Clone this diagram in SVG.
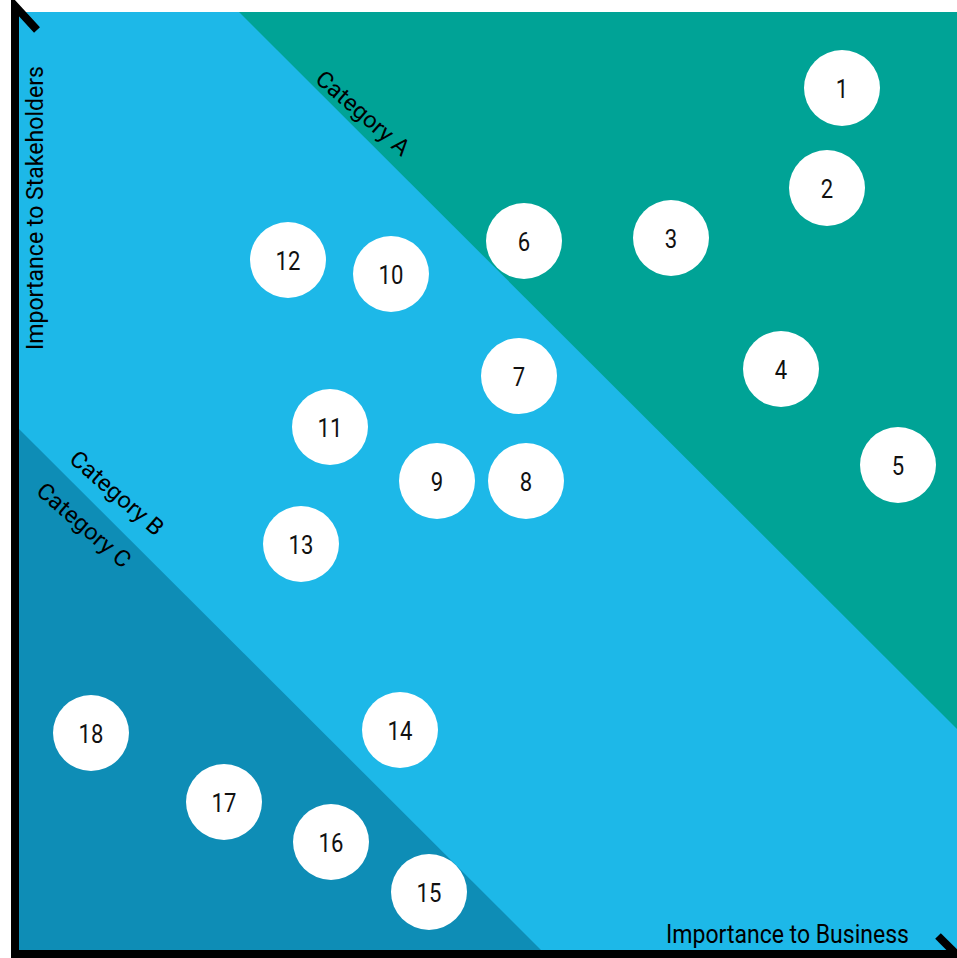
<svg xmlns="http://www.w3.org/2000/svg" width="957" height="958" viewBox="0 0 957 958">
<style>
.n circle{fill:#ffffff}
.n text{font-family:Roboto,"Liberation Sans",sans-serif;font-size:26px;fill:#111;text-anchor:middle}
.lbl{font-family:Roboto,"Liberation Sans",sans-serif;fill:#000}
.axis{fill:none;stroke:#000;stroke-width:8}
</style>
<rect width="957" height="958" fill="#ffffff"/>
<g id="regions">
<rect x="18" y="12" width="939" height="941" fill="#1DB8E8"/>
<polygon points="239,12 957,12 957,729" fill="#00A396"/>
<polygon points="18,428 18,953 544,953" fill="#0E8DB6"/>
</g>
<g id="labels">
<text class="lbl" font-size="23" textLength="116" lengthAdjust="spacingAndGlyphs" transform="translate(314,81) rotate(41)">Category A</text>
<text class="lbl" font-size="23" textLength="116" lengthAdjust="spacingAndGlyphs" transform="translate(68,461) rotate(41)">Category B</text>
<text class="lbl" font-size="23" textLength="116" lengthAdjust="spacingAndGlyphs" transform="translate(35,493) rotate(41)">Category C</text>
<text class="lbl" font-size="24" textLength="284" lengthAdjust="spacingAndGlyphs" transform="translate(43,350) rotate(-90)">Importance to Stakeholders</text>
<text class="lbl" font-size="25" x="666" y="943" textLength="243" lengthAdjust="spacingAndGlyphs">Importance to Business</text>
</g>
<g id="axes">
<path class="axis" d="M37,30 L15,6 L15,954 L957,954"/>
<path class="axis" d="M938,936 L958,956"/>
</g>
<g id="n1" class="n" transform="translate(842,88)"><circle r="38"/><text y="10" transform="scale(0.85,1)">1</text></g>
<g id="n2" class="n" transform="translate(827,188)"><circle r="38"/><text y="10" transform="scale(0.85,1)">2</text></g>
<g id="n3" class="n" transform="translate(671,238)"><circle r="38"/><text y="10" transform="scale(0.85,1)">3</text></g>
<g id="n4" class="n" transform="translate(781,369)"><circle r="38"/><text y="10" transform="scale(0.85,1)">4</text></g>
<g id="n5" class="n" transform="translate(898,465)"><circle r="38"/><text y="10" transform="scale(0.85,1)">5</text></g>
<g id="n6" class="n" transform="translate(524,241)"><circle r="38"/><text y="10" transform="scale(0.85,1)">6</text></g>
<g id="n7" class="n" transform="translate(519,376)"><circle r="38"/><text y="10" transform="scale(0.85,1)">7</text></g>
<g id="n8" class="n" transform="translate(526,481)"><circle r="38"/><text y="10" transform="scale(0.85,1)">8</text></g>
<g id="n9" class="n" transform="translate(437,481)"><circle r="38"/><text y="10" transform="scale(0.85,1)">9</text></g>
<g id="n10" class="n" transform="translate(391,274)"><circle r="38"/><text y="10" transform="scale(0.85,1)">10</text></g>
<g id="n11" class="n" transform="translate(330,427)"><circle r="38"/><text y="10" transform="scale(0.85,1)">11</text></g>
<g id="n12" class="n" transform="translate(288,260)"><circle r="38"/><text y="10" transform="scale(0.85,1)">12</text></g>
<g id="n13" class="n" transform="translate(301,544)"><circle r="38"/><text y="10" transform="scale(0.85,1)">13</text></g>
<g id="n14" class="n" transform="translate(400,730)"><circle r="38"/><text y="10" transform="scale(0.85,1)">14</text></g>
<g id="n15" class="n" transform="translate(429,892)"><circle r="38"/><text y="10" transform="scale(0.85,1)">15</text></g>
<g id="n16" class="n" transform="translate(331,842)"><circle r="38"/><text y="10" transform="scale(0.85,1)">16</text></g>
<g id="n17" class="n" transform="translate(224,802)"><circle r="38"/><text y="10" transform="scale(0.85,1)">17</text></g>
<g id="n18" class="n" transform="translate(91,733)"><circle r="38"/><text y="10" transform="scale(0.85,1)">18</text></g>
</svg>
